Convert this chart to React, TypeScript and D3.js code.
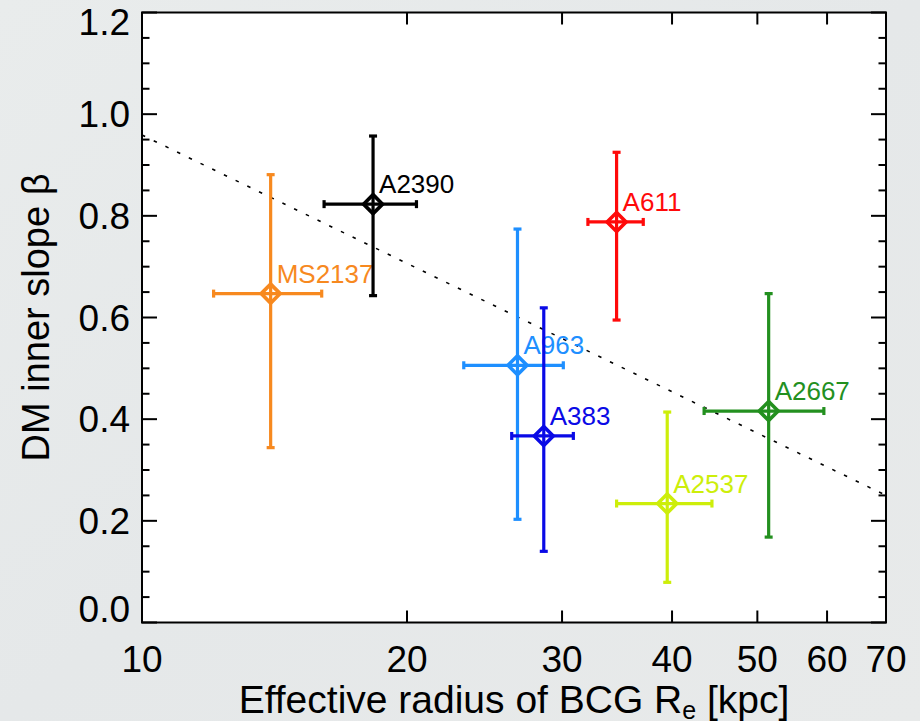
import * as d3 from 'd3';

const clusters = ['MS2137', 'A2390', 'A963', 'A383', 'A611', 'A2537', 'A2667']
	, radius = [14.0, 18.3, 26.7, 28.6, 34.6, 39.5, 51.5]
	, radiusLo = [12.06, 16.1, 23.2, 26.3, 32.1, 34.6, 43.5]
	, radiusHi = [16.0, 20.5, 30.1, 30.9, 37.1, 44.4, 59.5]
	, slope = [0.647, 0.823, 0.506, 0.367, 0.788, 0.234, 0.416]
	, slopeLo = [0.344, 0.643, 0.203, 0.140, 0.595, 0.079, 0.168]
	, slopeHi = [0.881, 0.957, 0.774, 0.619, 0.925, 0.414, 0.647]
	, fitX = [10, 70]
	, fitY = [0.959, 0.250]
	, xTicks = [10, 20, 30, 40, 50, 60, 70]
	, yTicks = [0, 0.2, 0.4, 0.6, 0.8, 1.0, 1.2]
	, yMinor = d3.range(0, 1.2001, 0.05)
	;

// colours, one per cluster
const colors = ['#f7891f', '#000000', '#1e8fff', '#0a0ae6', '#ff0a0a', '#cdee0a', '#23901f'];

const W = 920
	, H = 721
	, left = 142
	, right = 886
	, top = 12.5
	, bottom = 622.5
	, font = '"Liberation Sans", Arial, Helvetica, sans-serif'
	;

function App(){
	const x = d3.scaleLog().domain([10, 70]).range([left, right])
		, y = d3.scaleLinear().domain([0, 1.2]).range([bottom, top])
		, fit = d3.line<number>().x((d)=>x(d)).y((d, i)=>y(fitY[i]))
		, diamond = d3.symbol().type(d3.symbolDiamond2).size(230)
		, cap = 4
		;

	return (<svg width={W} height={H} style={{position: 'absolute', left: 0, top: 0, display: 'block'}}>
		<defs>
			<linearGradient id="bg" x1="0" y1="0" x2="1" y2="1">
				<stop offset="0" stopColor="#e9ecec"/>
				<stop offset="0.5" stopColor="#e5e8e9"/>
				<stop offset="1" stopColor="#e8eaea"/>
			</linearGradient>
			<clipPath id="plot">
				<rect x={left} y={top} width={right - left} height={bottom - top}/>
			</clipPath>
		</defs>
		<rect width={W} height={H} fill="url(#bg)"/>
		<rect x={left} y={top} width={right - left} height={bottom - top} fill="#fff"/>

		{/* fit line */}
		<path d={fit(fitX) || ''} fill="none" stroke="#000" strokeWidth={1.6} strokeDasharray="3.5,9.5" clipPath="url(#plot)"/>

		{/* error bars + points */}
		{clusters.map((name, i)=>{
			const cx = x(radius[i])
				, cy = y(slope[i])
				, x0 = x(radiusLo[i])
				, x1 = x(radiusHi[i])
				, y0 = y(slopeLo[i])
				, y1 = y(slopeHi[i])
				, c = colors[i]
				;

			return (<g key={name} stroke={c} strokeWidth={3.2} fill="none">
				<line x1={x0} x2={x1} y1={cy} y2={cy}/>
				<line x1={cx} x2={cx} y1={y0} y2={y1}/>
				<line x1={x0} x2={x0} y1={cy - cap} y2={cy + cap}/>
				<line x1={x1} x2={x1} y1={cy - cap} y2={cy + cap}/>
				<line x1={cx - cap} x2={cx + cap} y1={y0} y2={y0}/>
				<line x1={cx - cap} x2={cx + cap} y1={y1} y2={y1}/>
				<path d={diamond() || ''} transform={`translate(${cx},${cy})`} strokeWidth={3.6}/>
				<text x={cx + 6} y={cy - 11} fill={c} stroke="none" fontFamily={font} fontSize={26}>{name}</text>
			</g>);
		})}

		{/* frame */}
		<rect x={left} y={top} width={right - left} height={bottom - top} fill="none" stroke="#000" strokeWidth={2}/>

		{/* x ticks */}
		{xTicks.map((t)=>{
			return (<g key={'x' + t}>
				<line x1={x(t)} x2={x(t)} y1={bottom} y2={bottom - 12} stroke="#000" strokeWidth={2}/>
				<line x1={x(t)} x2={x(t)} y1={top} y2={top + 12} stroke="#000" strokeWidth={2}/>
				<text x={x(t)} y={672} textAnchor="middle" fontFamily={font} fontSize={37}>{t}</text>
			</g>);
		})}

		{/* y ticks */}
		{yMinor.map((t, i)=>{
			const len = i % 4 === 0 ? 15 : 7.5
				;

			return (<g key={'ym' + i} stroke="#000" strokeWidth={2}>
				<line x1={left} x2={left + len} y1={y(t)} y2={y(t)}/>
				<line x1={right} x2={right - len} y1={y(t)} y2={y(t)}/>
			</g>);
		})}
		{yTicks.map((t)=>{
			const by = Math.min(Math.max(y(t) + 13, 35), 622)
				;

			return (<text key={'y' + t} x={130} y={by} textAnchor="end" fontFamily={font} fontSize={37}>{t.toFixed(1)}</text>);
		})}

		{/* axis titles */}
		<text x={(left + right) / 2} y={713} textAnchor="middle" fontFamily={font} fontSize={39}>
			Effective radius of BCG R<tspan fontSize={25} dy={6}>e</tspan><tspan dy={-6}> [kpc]</tspan>
		</text>
		<text transform={`translate(49,${(top + bottom) / 2}) rotate(-90)`} textAnchor="middle" fontFamily={font} fontSize={38}>DM inner slope β</text>
	</svg>);
}

export default App;
